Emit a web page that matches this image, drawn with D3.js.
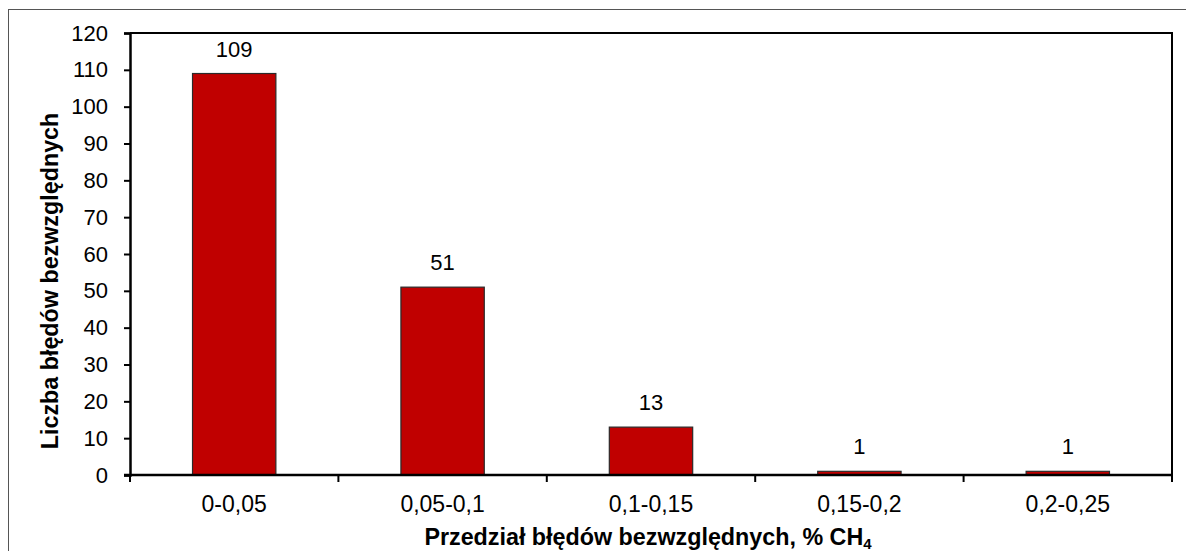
<!DOCTYPE html>
<html>
<head>
<meta charset="utf-8">
<script src="https://cdn.jsdelivr.net/npm/d3@7"></script>
<style>
  html, body { margin: 0; padding: 0; background: #fff; }
  svg { display: block; font-family: Arial, "Liberation Sans", sans-serif; }
</style>
</head>
<body>
<svg id="chart" width="1186" height="551"></svg>
<script>
// Histogram of absolute errors, % CH4
const categories = ["0-0,05", "0,05-0,1", "0,1-0,15", "0,15-0,2", "0,2-0,25"];
const counts = [109, 51, 13, 1, 1];
const yTicks = [0, 10, 20, 30, 40, 50, 60, 70, 80, 90, 100, 110, 120];

const svg = d3.select("#chart");
const W = 1186, H = 551;
const plot = { left: 130, top: 33, right: 1172, bottom: 475 };
const FONT = "Arial, 'Liberation Sans', sans-serif";

// Outer chart frame
svg.append("rect")
  .attr("x", 8.5).attr("y", 9.5)
  .attr("width", W).attr("height", H)
  .attr("fill", "none").attr("stroke", "#555").attr("stroke-width", 1);

const x = d3.scaleBand().domain(categories).range([plot.left, plot.right]).paddingInner(0).paddingOuter(0);
const y = d3.scaleLinear().domain([0, 120]).range([plot.bottom, plot.top]);

// Plot area border (top and right)
svg.append("path")
  .attr("d", `M${plot.left},${plot.top}H${plot.right}V${plot.bottom}`)
  .attr("fill", "none").attr("stroke", "#000").attr("stroke-width", 2);

// Bars
const barW = x.bandwidth() * 0.4;
svg.append("g").selectAll("rect")
  .data(counts)
  .join("rect")
  .attr("x", (d, i) => x(categories[i]) + (x.bandwidth() - barW) / 2)
  .attr("y", d => y(d))
  .attr("width", barW)
  .attr("height", d => y(0) - y(d))
  .attr("fill", "#C00000")
  .attr("stroke", "#2a2a2a")
  .attr("stroke-width", 1.2);

// Value labels
svg.append("g").selectAll("text")
  .data(counts)
  .join("text")
  .attr("x", (d, i) => x(categories[i]) + x.bandwidth() / 2)
  .attr("y", d => y(d) - 17)
  .attr("text-anchor", "middle")
  .attr("font-size", 22)
  .attr("fill", "#000")
  .text(d => d);

// Y axis
const yAxis = d3.axisLeft(y).tickValues(yTicks).tickSize(6).tickPadding(16);
const gy = svg.append("g").attr("transform", `translate(${plot.left},0)`).call(yAxis);
gy.select(".domain").attr("stroke", "#000").attr("stroke-width", 2.5);
gy.selectAll(".tick line").attr("stroke", "#000").attr("stroke-width", 2);
gy.selectAll(".tick text").attr("font-size", 22).attr("fill", "#000").attr("font-family", FONT);

// X axis: ticks at category boundaries
const boundaries = categories.map(c => x(c)).concat([plot.right]);
svg.append("line")
  .attr("x1", plot.left - 6).attr("x2", plot.right)
  .attr("y1", plot.bottom).attr("y2", plot.bottom)
  .attr("stroke", "#000").attr("stroke-width", 2.5);
svg.append("g").selectAll("line")
  .data(boundaries)
  .join("line")
  .attr("x1", d => d).attr("x2", d => d)
  .attr("y1", plot.bottom).attr("y2", plot.bottom + 7)
  .attr("stroke", "#000").attr("stroke-width", 2);
svg.append("g").selectAll("text")
  .data(categories)
  .join("text")
  .attr("x", d => x(d) + x.bandwidth() / 2)
  .attr("y", 512)
  .attr("text-anchor", "middle")
  .attr("font-size", 23)
  .attr("fill", "#000")
  .text(d => d);

// Axis titles
svg.append("text")
  .attr("transform", "translate(58,281) rotate(-90)")
  .attr("text-anchor", "middle")
  .attr("font-size", 23.3)
  .attr("font-weight", "bold")
  .text("Liczba błędów bezwzględnych");

const xt = svg.append("text")
  .attr("x", 648).attr("y", 545)
  .attr("text-anchor", "middle")
  .attr("font-size", 23.3)
  .attr("font-weight", "bold");
xt.append("tspan").text("Przedział błędów bezwzględnych, % CH");
xt.append("tspan").attr("font-size", 15).attr("dy", 4).text("4");
</script>
</body>
</html>
